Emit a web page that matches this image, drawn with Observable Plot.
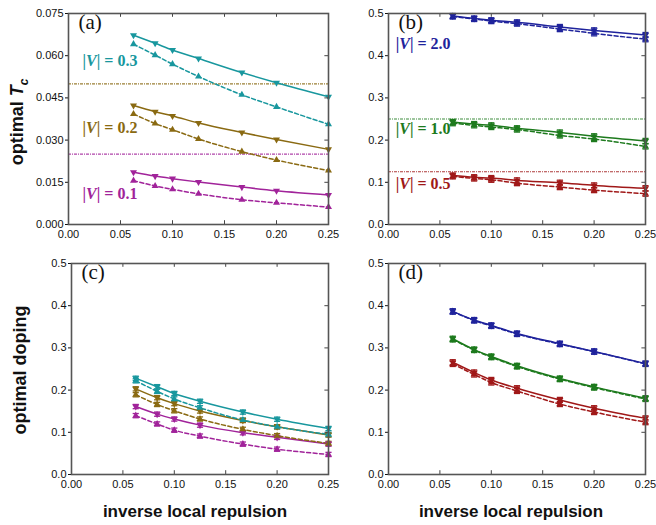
<!DOCTYPE html>
<html><head><meta charset="utf-8">
<script src="https://cdn.jsdelivr.net/npm/d3@7"></script>
<script src="https://cdn.jsdelivr.net/npm/@observablehq/plot@0.6"></script>
<style>
body{margin:0;background:#fff;}
#wrap{position:relative;width:656px;height:525px;overflow:hidden;font-family:"Liberation Sans",Arial,sans-serif;color:#111;}
.panel{position:absolute;width:330px;height:250px;}
.lab{position:absolute;white-space:nowrap;font-weight:bold;transform:translate(-50%,-50%);}
.rot{transform:translate(-50%,-50%) rotate(-90deg);}
</style></head>
<body><div id="wrap"></div>
<script>
// ---------- data ----------
const invU = [0.0625, 0.0833, 0.1, 0.125, 0.1667, 0.2, 0.25];
const xTicks = [0, 0.05, 0.1, 0.15, 0.2, 0.25];
const tcTicksA = [0, 0.015, 0.03, 0.045, 0.06, 0.075];
const ticksHalf = [0, 0.1, 0.2, 0.3, 0.4, 0.5];

// panel (a): optimal Tc, weak |V|
const tcV03  = [0.0673, 0.0644, 0.0620, 0.0590, 0.0540, 0.0504, 0.0454];
const tcV03d = [0.0641, 0.0602, 0.0570, 0.0526, 0.0461, 0.0418, 0.0356];
const tcV02  = [0.0423, 0.0401, 0.0386, 0.0361, 0.0327, 0.0302, 0.0267];
const tcV02d = [0.0393, 0.0359, 0.0337, 0.0304, 0.0259, 0.0229, 0.0192];
const tcV01  = [0.0186, 0.0172, 0.0163, 0.0151, 0.0133, 0.0120, 0.0105];
const tcV01d = [0.0156, 0.0137, 0.0125, 0.0109, 0.0088, 0.0077, 0.0062];
// panel (b): optimal Tc, strong |V|
const tcV20  = [0.494, 0.488, 0.484, 0.479, 0.468, 0.460, 0.449];
const tcV20d = [0.493, 0.487, 0.482, 0.476, 0.463, 0.453, 0.439];
const tcV10  = [0.243, 0.238, 0.235, 0.228, 0.218, 0.209, 0.198];
const tcV10d = [0.240, 0.235, 0.231, 0.225, 0.211, 0.2025, 0.185];
const tcV05  = [0.116, 0.112, 0.110, 0.1045, 0.099, 0.0926, 0.086];
const tcV05d = [0.114, 0.109, 0.106, 0.098, 0.0886, 0.0815, 0.073];
// panel (c): optimal doping, weak |V|
const dopV03  = [0.228, 0.208, 0.192, 0.1735, 0.148, 0.131, 0.109];
const dopV03d = [0.222, 0.197, 0.179, 0.158, 0.129, 0.113, 0.095];
const dopV02  = [0.203, 0.182, 0.168, 0.1505, 0.128, 0.113, 0.0935];
const dopV02d = [0.189, 0.166, 0.151, 0.1315, 0.107, 0.092, 0.0737];
const dopV01  = [0.161, 0.143, 0.1315, 0.117, 0.099, 0.088, 0.072];
const dopV01d = [0.1395, 0.1197, 0.105, 0.091, 0.072, 0.060, 0.0475];
// panel (d): optimal doping, strong |V|
const dopV20  = [0.3867, 0.366, 0.3534, 0.334, 0.310, 0.2916, 0.263];
const dopV20d = [0.386, 0.365, 0.352, 0.333, 0.309, 0.291, 0.262];
const dopV10  = [0.3217, 0.296, 0.2797, 0.2575, 0.2274, 0.2076, 0.1807];
const dopV10d = [0.320, 0.295, 0.278, 0.256, 0.226, 0.206, 0.179];
const dopV05  = [0.266, 0.2417, 0.224, 0.2044, 0.1767, 0.157, 0.133];
const dopV05d = [0.262, 0.237, 0.218, 0.198, 0.167, 0.148, 0.124];

const boundsA = [0.05, 0.025];
const boundsB = [0.25, 0.125];
const errBD = 0.006;
const errC = 0.005;

const C = {v03:"#18979e", v02:"#8a6a12", v01:"#a1239a", v20:"#1f239c", v10:"#1d7a1d", v05:"#a01818"};

// ---------- helpers ----------
function rows(name, color, solid, dashed) {
  const r = [];
  invU.forEach((x,i)=>{
    r.push({k:name+"s", x, y:solid[i], c:color, dash:false});
    r.push({k:name+"d", x, y:dashed[i], c:color, dash:true});
  });
  return r;
}

function makePanel(o) {
  const data = o.series.flatMap(s => rows(s.name, s.color, s.solid, s.dashed));
  const solid = data.filter(d=>!d.dash), dashed = data.filter(d=>d.dash);
  const [y0,y1] = o.yDomain, span = y1-y0;
  const marks = [];
  if (o.bounds) marks.push(Plot.ruleY(o.bounds, {y:"v", stroke:"c", strokeWidth:1.1, strokeDasharray:"3,1,1,1", strokeOpacity:0.85}));
  marks.push(Plot.line(solid, {x:"x", y:"y", z:"k", stroke:"c", strokeWidth:1.5, curve:"monotone-x"}));
  marks.push(Plot.line(dashed, {x:"x", y:"y", z:"k", stroke:"c", strokeWidth:1.5, strokeDasharray:"4,2.5", curve:"monotone-x"}));
  if (o.err) {
    marks.push(Plot.ruleX(data, {x:"x", y1:d=>d.y-o.err, y2:d=>d.y+o.err, stroke:"c", strokeWidth:1.3}));
    marks.push(Plot.link(data, {x1:d=>d.x-0.003, x2:d=>d.x+0.003, y1:d=>d.y+o.err, y2:d=>d.y+o.err, stroke:"c", strokeWidth:1.3}));
    marks.push(Plot.link(data, {x1:d=>d.x-0.003, x2:d=>d.x+0.003, y1:d=>d.y-o.err, y2:d=>d.y-o.err, stroke:"c", strokeWidth:1.3}));
  }
  marks.push(Plot.dot(solid, {x:"x", y:"y", symbol:"triangle", r:2.6, fill:"c", rotate:180}));
  marks.push(Plot.dot(dashed, {x:"x", y:"y", symbol:"triangle", r:2.6, fill:"c"}));
  if (o.labels) marks.push(Plot.text(o.labels, {x:"x", y:"y", text:"t", fill:"c", textAnchor:"start", fontFamily:"'Liberation Serif','DejaVu Serif',serif", fontWeight:"bold", fontSize:16, className:"vlab"}));
  // inward ticks on bottom / top / right
  marks.push(Plot.ruleX(xTicks, {x:d=>d, y1:y0, y2:y0+span*0.018, stroke:"#444"}));
  marks.push(Plot.ruleX(xTicks, {x:d=>d, y1:y1, y2:y1-span*0.018, stroke:"#444"}));
  marks.push(Plot.ruleY(o.yTicks, {y:d=>d, x1:0.25, x2:0.25-0.25*0.014, stroke:"#444"}));
  marks.push(Plot.axisY({ticks:o.yTicks, tickFormat:o.yFmt, tickSize:3, tickPadding:2, label:null}));
  marks.push(Plot.axisX({ticks:xTicks, tickFormat:d3.format(".2f"), tickSize:0, tickPadding:6, label:null}));
  marks.push(Plot.frame({stroke:"#555", strokeWidth:1.6}));
  marks.push(Plot.text([o.tag], {frameAnchor:"top-left", text:d=>d, dx:10, dy:1, fontSize:21, fontFamily:"'Liberation Serif','Times New Roman',serif", fill:"#111"}));
  const svg = Plot.plot({
    width:330, height:250,
    marginLeft:o.ml, marginRight:o.mr, marginTop:13, marginBottom:26,
    x:{domain:[0,0.25]}, y:{domain:o.yDomain},
    color:{type:"identity"},
    style:{background:"transparent", fontSize:"11px", fontFamily:"'Liberation Sans',Arial,sans-serif", color:"#111", overflow:"visible"},
    marks
  });
  // italic V in |V| labels
  d3.select(svg).selectAll("g.vlab text").each(function(){
    const t = this.textContent; const rest = t.slice(3);
    const sel = d3.select(this); sel.text(null);
    sel.append("tspan").text("|");
    sel.append("tspan").attr("font-style","italic").text("V");
    sel.append("tspan").text("| " + rest.trim().replace(/^\|\s*/,""));
  });
  const div = document.createElement("div");
  div.className = "panel"; div.style.left = o.left+"px"; div.style.top = o.top+"px";
  div.appendChild(svg);
  document.getElementById("wrap").appendChild(div);
}

const wrap = document.getElementById("wrap");

makePanel({left:0, top:0, ml:68, mr:2, tag:"(a)", yDomain:[0,0.075], yTicks:tcTicksA, yFmt:d3.format(".3f"),
  series:[{name:"v03",color:C.v03,solid:tcV03,dashed:tcV03d},{name:"v02",color:C.v02,solid:tcV02,dashed:tcV02d},{name:"v01",color:C.v01,solid:tcV01,dashed:tcV01d}],
  bounds:[{v:boundsA[0],c:C.v02},{v:boundsA[1],c:C.v01}],
  labels:[{x:0.0135,y:0.0583,t:"|V| = 0.3",c:C.v03},{x:0.0135,y:0.0345,t:"|V| = 0.2",c:C.v02},{x:0.0135,y:0.011,t:"|V| = 0.1",c:C.v01}]});

makePanel({left:326, top:0, ml:62, mr:11, tag:"(b)", yDomain:[0,0.5], yTicks:ticksHalf, yFmt:d3.format(".1f"), err:errBD,
  series:[{name:"v20",color:C.v20,solid:tcV20,dashed:tcV20d},{name:"v10",color:C.v10,solid:tcV10,dashed:tcV10d},{name:"v05",color:C.v05,solid:tcV05,dashed:tcV05d}],
  bounds:[{v:boundsB[0],c:C.v10},{v:boundsB[1],c:C.v05}],
  labels:[{x:0.007,y:0.429,t:"|V| = 2.0",c:C.v20},{x:0.007,y:0.2275,t:"|V| = 1.0",c:C.v10},{x:0.007,y:0.097,t:"|V| = 0.5",c:C.v05}]});

makePanel({left:0, top:250, ml:71, mr:2, tag:"(c)", yDomain:[0,0.5], yTicks:ticksHalf, yFmt:d3.format(".1f"), err:errC,
  series:[{name:"v03",color:C.v03,solid:dopV03,dashed:dopV03d},{name:"v02",color:C.v02,solid:dopV02,dashed:dopV02d},{name:"v01",color:C.v01,solid:dopV01,dashed:dopV01d}]});

makePanel({left:326, top:250, ml:62, mr:11, tag:"(d)", yDomain:[0,0.5], yTicks:ticksHalf, yFmt:d3.format(".1f"), err:errBD,
  series:[{name:"v20",color:C.v20,solid:dopV20,dashed:dopV20d},{name:"v10",color:C.v10,solid:dopV10,dashed:dopV10d},{name:"v05",color:C.v05,solid:dopV05,dashed:dopV05d}]});

function label(html, x, y, cls, size) {
  const d = document.createElement("div");
  d.className = "lab " + (cls||""); d.innerHTML = html;
  d.style.left = x+"px"; d.style.top = y+"px"; d.style.fontSize = size+"px";
  wrap.appendChild(d);
}
label('optimal <i>T</i><sub style="font-size:12px;font-style:italic">c</sub>', 19, 122, "rot", 18);
label('optimal doping', 20, 370, "rot", 18);
label('inverse local repulsion', 195, 512, "", 17);
label('inverse local repulsion', 511, 512, "", 17);
</script></body></html>
